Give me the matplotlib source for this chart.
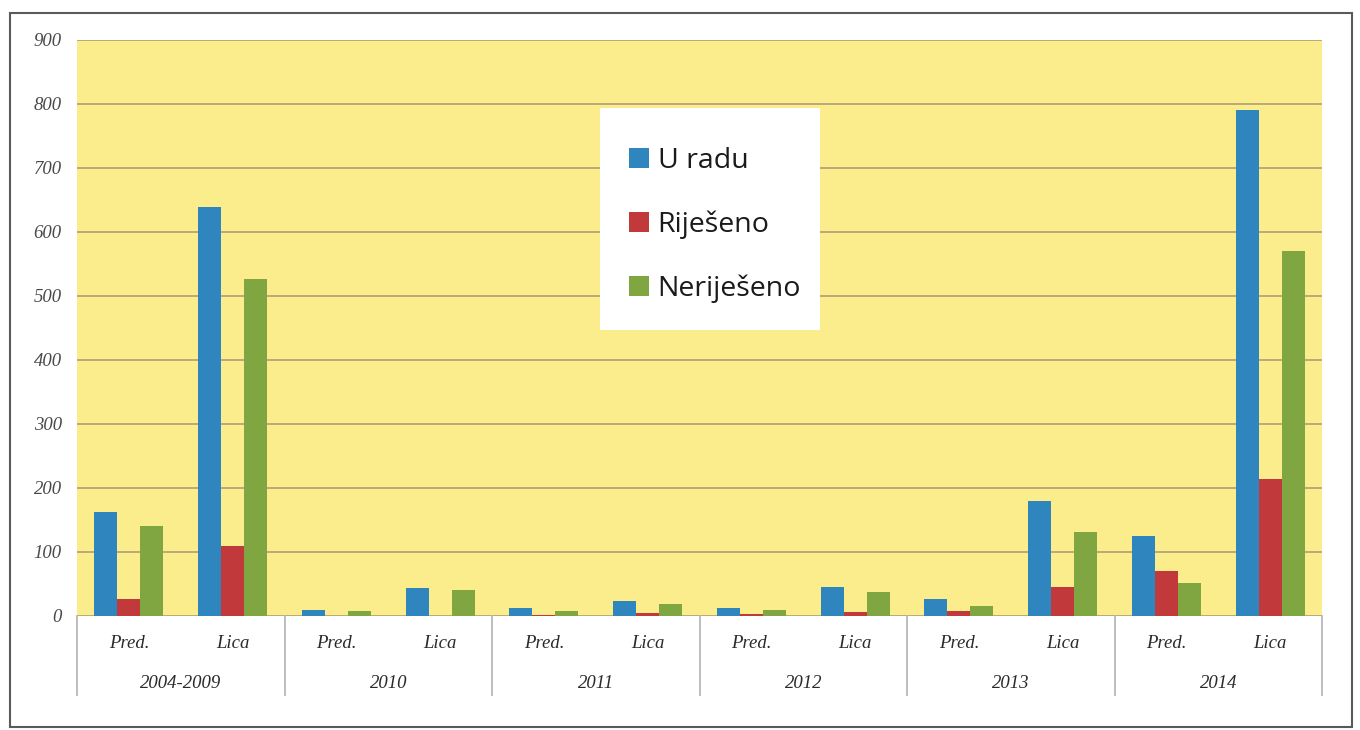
import matplotlib
matplotlib.use("Agg")
import matplotlib.pyplot as plt
from matplotlib.patches import Rectangle, Patch
import numpy as np

years = ["2004-2009", "2010", "2011", "2012", "2013", "2014"]
subcats = ["Pred.", "Lica"]
series_names = ["U radu", "Riješeno", "Neriješeno"]
u_radu = [163, 639, 9, 43, 12, 24, 12, 45, 27, 180, 125, 790]
rijeseno = [26, 109, 0, 0, 2, 5, 3, 7, 8, 46, 70, 214]
nerijeseno = [140, 527, 8, 41, 8, 18, 9, 38, 16, 132, 52, 570]
yticks = [0, 100, 200, 300, 400, 500, 600, 700, 800, 900]

colors = ["#2F86BE", "#C2393C", "#7FA641"]

W, H = 1360, 730
fig = plt.figure(figsize=(W / 100, H / 100), dpi=100)
fig.patch.set_facecolor("white")

# outer border
fig.add_artist(Rectangle((10 / W, 1 - 727 / H), (1352 - 10) / W, (727 - 13) / H,
                         transform=fig.transFigure, fill=False, edgecolor="#5a5a5a", lw=1.5))

left, right, top, bottom = 77, 1322, 40, 616
ax = fig.add_axes([left / W, 1 - bottom / H, (right - left) / W, (bottom - top) / H])
ax.set_facecolor("#FBED8C")

n = len(u_radu)
x = np.arange(n)
bw = 0.222
for k, (vals, c) in enumerate(zip([u_radu, rijeseno, nerijeseno], colors)):
    ax.bar(x + (k - 1) * bw, vals, width=bw, color=c, zorder=3, label=series_names[k])

ax.set_xlim(-0.5, n - 0.5)
ax.set_ylim(0, 900)
ax.set_yticks(yticks)
ax.set_yticklabels([str(t) for t in yticks], fontfamily="Liberation Serif",
                   fontstyle="italic", fontsize=13.5, color="#4a4a4a")
ax.tick_params(axis="y", length=0, pad=11)
ax.set_xticks([])
for t in yticks:
    ax.axhline(t, color="#BBAA78", lw=1.4, zorder=1)
for s in ax.spines.values():
    s.set_visible(False)

# category table below axis
trans = ax.get_xaxis_transform()
depth = (695 - bottom) / (bottom - top)
for b in np.arange(0, n + 1, 2) - 0.5:
    ax.plot([b, b], [0, -depth], transform=trans, color="#b8b8b8", lw=1.3, clip_on=False)
for i in range(n):
    ax.text(i, -27 / (bottom - top), subcats[i % 2], transform=trans, ha="center", va="center",
            fontfamily="Liberation Serif", fontstyle="italic", fontsize=13.5, color="#2a2a2a")
for j, yr in enumerate(years):
    ax.text(2 * j + 0.5, -67 / (bottom - top), yr, transform=trans, ha="center", va="center",
            fontfamily="Liberation Serif", fontstyle="italic", fontsize=13.5, color="#2a2a2a")

# legend box
lx0, ly0, lx1, ly1 = 600, 108, 820, 330
fig.add_artist(Rectangle((lx0 / W, 1 - ly1 / H), (lx1 - lx0) / W, (ly1 - ly0) / H,
                         transform=fig.transFigure, facecolor="white", edgecolor="none", zorder=4))
handles = [Patch(facecolor=c, edgecolor="none") for c in colors]
leg = fig.legend(handles, series_names, loc="center",
                 bbox_to_anchor=((lx0 + lx1) / 2 / W + 5 / W, 1 - (ly0 + ly1) / 2 / H - 6 / H),
                 frameon=False, prop={"family": "Open Sans", "size": 20.5},
                 handlelength=0.7, handleheight=0.7, handletextpad=0.3, labelspacing=1.25)
leg.set_zorder(5)
for t in leg.get_texts():
    t.set_color("#1a1a1a")

fig.savefig("out.png", dpi=100, facecolor="white")
